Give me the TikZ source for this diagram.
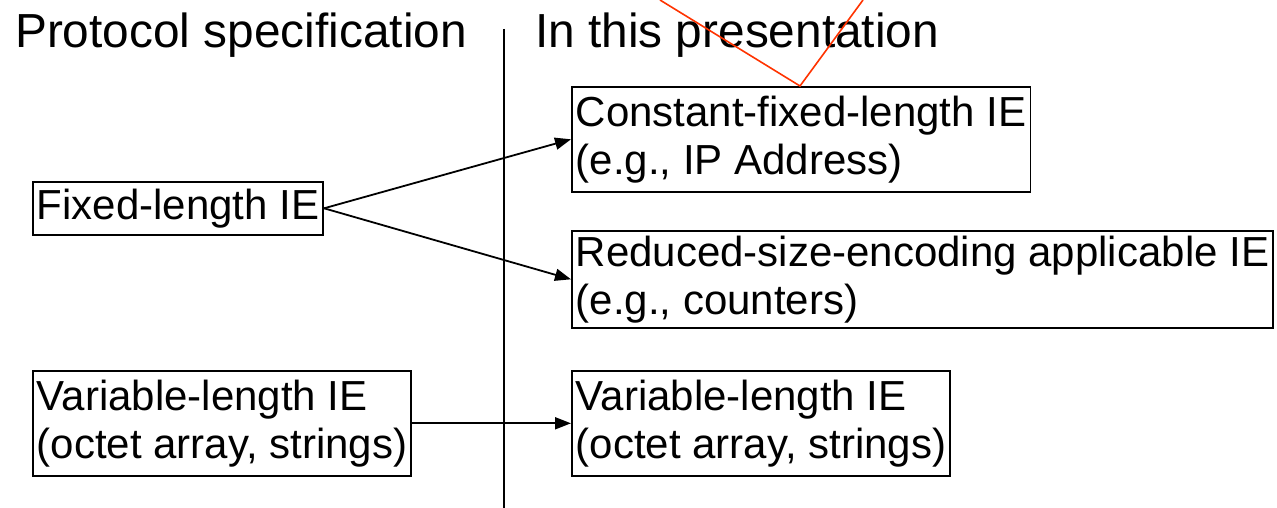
\documentclass[tikz,border=0pt]{standalone}
\usepackage{fontspec}
\setmainfont{Liberation Sans}
\usetikzlibrary{arrows.meta}
\definecolor{markred}{HTML}{FF3300}
\tikzset{
  iebox/.style={draw,line width=1.6pt,anchor=north west,align=left,inner xsep=4pt,inner ysep=2pt,font=\fontsize{42}{48}\selectfont},
  title/.style={anchor=base west,inner sep=0pt,font=\fontsize{47.8}{52}\selectfont},
  link/.style={line width=1.8pt,-{Triangle[length=16pt,width=12pt]}}
}
\begin{document}
\begin{tikzpicture}[x=1pt,y=-1pt]
        \useasboundingbox (0,0) rectangle (1277,508);
        \node[title] (spec) at (15,48) {Protocol specification};
        \node[title] (pres) at (535,48) {In this presentation};
        \draw[line width=1.6pt] (504,29) coordinate (divtop) -- (504,508) coordinate (divbot);
        \node[iebox,minimum height=53pt] (fixed) at (32,181) {Fixed-length IE};
        \node[iebox,minimum height=105pt] (varL) at (32,370) {Variable-length IE\\(octet array, strings)};
        \node[iebox,minimum height=105pt] (const) at (571,86) {Constant-fixed-length IE\\(e.g., IP Address)};
        \node[iebox,minimum height=97pt] (reduce) at (571,230) {Reduced-size-encoding applicable IE\\(e.g., counters)};
        \node[iebox,minimum height=105pt] (varR) at (571,370) {Variable-length IE\\(octet array, strings)};
        \draw[link] (fixed.east) -- (const.west);
        \draw[link] (fixed.east) -- (reduce.west);
        \draw[link] (varL.east) -- (varR.west);
        \coordinate (redA) at (660,0);
        \coordinate (redB) at (863,0);
        \coordinate (peak) at (800,86);
        \draw[markred,line width=1.6pt] (redA) -- (peak) -- (redB);
\end{tikzpicture}
\end{document}
